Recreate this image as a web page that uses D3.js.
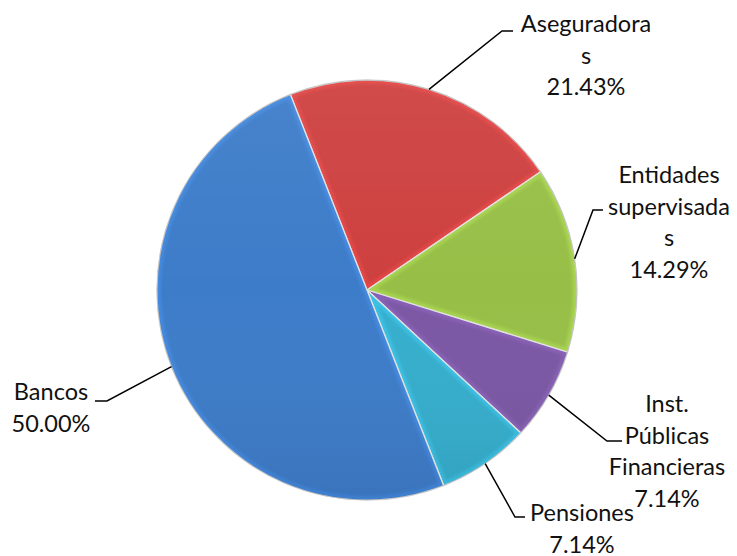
<!DOCTYPE html>
<html>
<head>
<meta charset="utf-8">
<script src="https://cdn.jsdelivr.net/npm/d3@7"></script>
<style>
  body { margin: 0; background: #fff; }
  svg { display: block; }
  .lbl { font-family: Lato, "Open Sans", sans-serif; font-size: 23.5px; fill: #111; }
</style>
</head>
<body>
<div id="chart-area"></div>
<script>
// data
var categories = ["Aseguradoras", "Entidades supervisadas", "Inst. Públicas Financieras", "Pensiones", "Bancos"];
var values = [21.43, 14.29, 7.14, 7.14, 50.00];
var labelLines = [
    ["Aseguradora", "s", "21.43%"],
    ["Entidades", "supervisada", "s", "14.29%"],
    ["Inst.", "Públicas", "Financieras", "7.14%"],
    ["Pensiones", "7.14%"],
    ["Bancos", "50.00%"]
];
var colors = ["#cd403f", "#97bf47", "#7b57a4", "#35aecd", "#3d7cc9"];

var width = 737, height = 556;
var cx = 367, cy = 290, radius = 210;

// label boxes placed like in the original (centre x, first baseline y, elbow)
var labelPos = [
    { x: 586, y: 32, hx: 513, hy: 31, ex: 502 },
    { x: 669, y: 183, hx: 603, hy: 210, ex: 593 },
    { x: 667, y: 412, hx: 622, hy: 441, ex: 607 },
    { x: 582, y: 521, hx: 525, hy: 517, ex: 515 },
    { x: 51, y: 400, hx: 95, hy: 401, ex: 107 }
];

var svg = d3.select("#chart-area")
    .append("svg")
    .attr("width", width)
    .attr("height", height);

var defs = svg.append("defs");

defs.append("filter").attr("id", "soft")
    .append("feGaussianBlur").attr("stdDeviation", 1.5);

// light from the top, a bit darker at the bottom
var shade = defs.append("linearGradient")
    .attr("id", "shade")
    .attr("gradientUnits", "userSpaceOnUse")
    .attr("x1", 0).attr("y1", -radius)
    .attr("x2", 0).attr("y2", radius);
shade.append("stop").attr("offset", 0).attr("stop-color", "#fff").attr("stop-opacity", 0.06);
shade.append("stop").attr("offset", 0.5).attr("stop-color", "#fff").attr("stop-opacity", 0);
shade.append("stop").attr("offset", 1).attr("stop-color", "#000").attr("stop-opacity", 0.07);

var startAngle = -21.4 * Math.PI / 180;

var pie = d3.pie()
    .sort(null)
    .value(function (d) { return d; })
    .startAngle(startAngle)
    .endAngle(startAngle + 2 * Math.PI);

var arcs = pie(values);

var arc = d3.arc().innerRadius(0).outerRadius(radius);
var edgeArc = d3.arc().innerRadius(radius).outerRadius(radius);

var g = svg.append("g")
    .attr("transform", "translate(" + cx + "," + cy + ")");

arcs.forEach(function (d, i) {
    defs.append("clipPath").attr("id", "clip" + i)
        .append("path").attr("d", arc(d));
});

var slices = g.selectAll("g.slice")
    .data(arcs)
    .enter()
    .append("g")
    .attr("class", "slice");

slices.append("path")
    .attr("d", arc)
    .attr("fill", function (d, i) { return colors[i]; });

// bevel-ish light rim
slices.append("path")
    .attr("d", arc)
    .attr("fill", "none")
    .attr("stroke", function (d, i) { return d3.color(colors[i]).brighter(0.5); })
    .attr("stroke-width", 8)
    .attr("stroke-opacity", 0.55)
    .attr("filter", "url(#soft)")
    .attr("clip-path", function (d, i) { return "url(#clip" + i + ")"; });

slices.append("path")
    .attr("d", arc)
    .attr("fill", "url(#shade)");

// thin dark outline on the rim
g.append("circle")
    .attr("r", radius)
    .attr("fill", "none")
    .attr("stroke", "#000")
    .attr("stroke-opacity", 0.15)
    .attr("stroke-width", 1);

// separators
slices.append("path")
    .attr("d", arc)
    .attr("fill", "none")
    .attr("stroke", "#e2e2e2")
    .attr("stroke-width", 1.3)
    .attr("stroke-linejoin", "round");

// leader lines
var leaders = svg.append("g");
arcs.forEach(function (d, i) {
    var c = edgeArc.centroid(d);
    var p = labelPos[i];
    leaders.append("polyline")
        .attr("points", [[cx + c[0], cy + c[1]], [p.ex, p.hy], [p.hx, p.hy]].map(function (q) { return q.join(","); }).join(" "))
        .attr("fill", "none")
        .attr("stroke", "#000")
        .attr("stroke-width", 1.5);
});

// labels
var labels = svg.selectAll("text.lbl")
    .data(labelLines)
    .enter()
    .append("text")
    .attr("class", "lbl")
    .attr("text-anchor", "middle");

labels.each(function (lines, i) {
    var t = d3.select(this);
    lines.forEach(function (s, k) {
        t.append("tspan")
            .attr("x", labelPos[i].x)
            .attr("y", labelPos[i].y + k * 31.5)
            .text(s);
    });
});
</script>
</body>
</html>
